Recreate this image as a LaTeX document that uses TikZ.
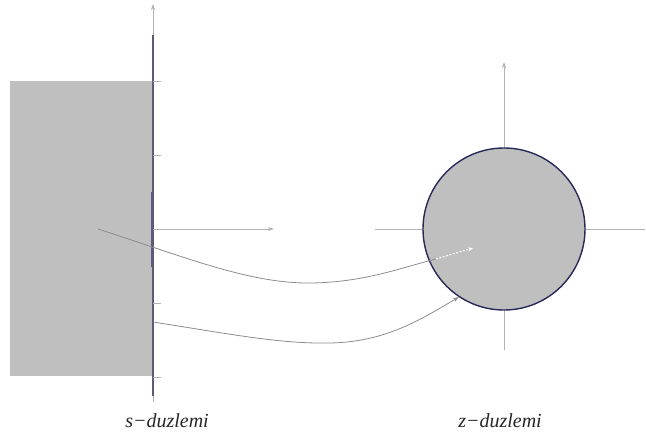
\documentclass[tikz,border=0pt]{standalone}
\usepackage{fontspec}
\setmainfont{Liberation Serif}
\usetikzlibrary{arrows.meta}
\definecolor{fillgray}{RGB}{191,191,191}
\definecolor{axisgray}{RGB}{178,178,178}
\definecolor{curvegray}{RGB}{140,140,140}
\definecolor{axisdark}{RGB}{92,92,120}
\definecolor{circblue}{RGB}{40,40,90}
\tikzset{
  axisline/.style={draw=axisgray, line width=0.8pt},
  axisarrow/.style={axisline, -{Stealth[length=6pt,width=4pt]}},
  mapcurve/.style={draw=curvegray, line width=0.8pt},
  tick/.style={draw=axisgray, line width=0.6pt},
  plabel/.style={font=\fontsize{20}{22}\selectfont\itshape, inner sep=0pt, text=black!85}
}
\begin{document}
\begin{tikzpicture}[x=1pt,y=-1pt]
\useasboundingbox (0,0) rectangle (646,445);
% s-plane
\fill[fillgray] (10,81) rectangle (153,376);
\draw[axisarrow] (153,402) -- (153,4);
\draw[draw=axisdark, line width=2.6pt] (153,35) -- (153,396);
\draw[draw=axisdark, line width=3.2pt] (152.7,192) -- (152.7,267);
\draw[axisarrow] (153,229) -- (274,229);
\foreach \yy in {81,155,229,303,377} \draw[tick] (153,\yy) -- (161,\yy);
% z-plane
\draw[axisline] (375,229) -- (645,229);
\draw[axisarrow] (504,350) -- (504,62);
\fill[fillgray] (504,229) circle (81);
\draw[draw=circblue, line width=1.4pt] (504,229) circle (81);
% mapping curves
\coordinate (a1) at (98,229);
\coordinate (a2) at (312,283);
\coordinate (a3) at (436,259);
\coordinate (a4) at (473,248);
\coordinate (b1) at (153,322);
\coordinate (b2) at (330,343);
\coordinate (b3) at (459,297);
\draw[mapcurve] (a1) .. controls (185,257) and (250,284) .. (a2)
                     .. controls (365,282) and (400,268) .. (a3);
\draw[draw=white, line width=1pt, dashed, dash pattern=on 2pt off 1.5pt,
      -{Stealth[length=5pt,width=4pt]}] (a3) -- (a4);
\draw[mapcurve, -{Stealth[length=6pt,width=4pt]}] (b1) .. controls (230,334) and (280,344) .. (b2)
                     .. controls (385,342) and (420,320) .. (b3);
% labels
\node[plabel] (sl) at (167,421) {s−duzlemi};
\node[plabel] (zl) at (500,421) {z−duzlemi};
\end{tikzpicture}
\end{document}
